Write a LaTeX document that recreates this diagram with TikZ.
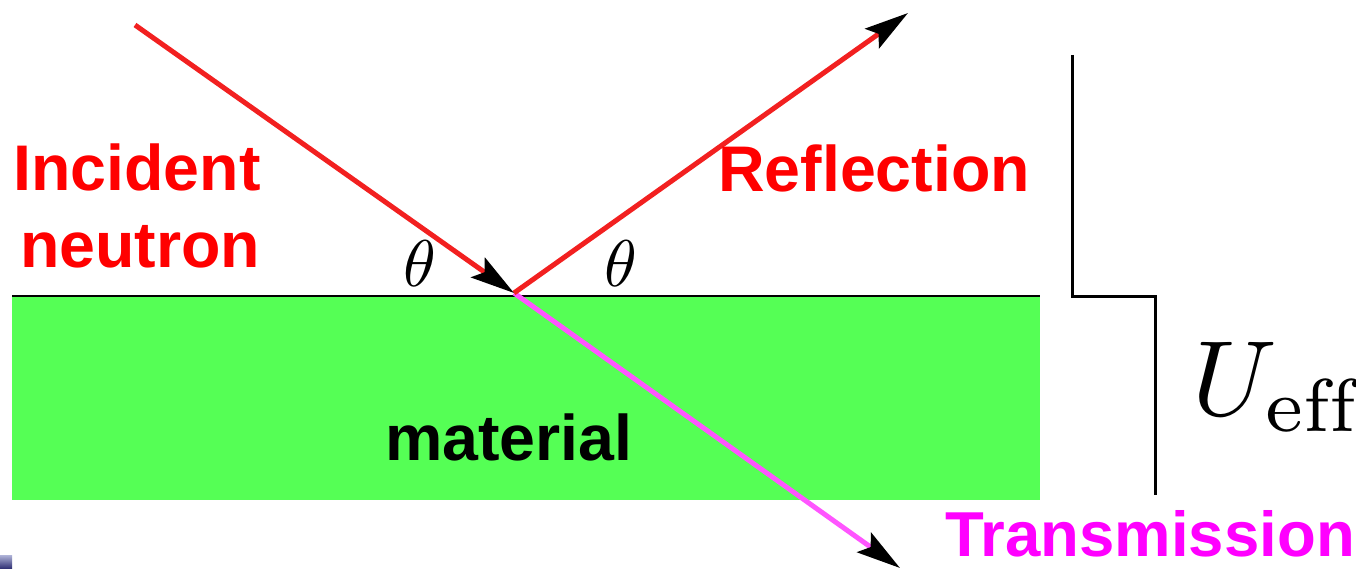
\documentclass[tikz,border=0pt]{standalone}
\usepackage{fontspec}
\newfontfamily\arialb{Liberation Sans}[BoldFont={Liberation Sans Bold}]
\usetikzlibrary{arrows.meta}
\definecolor{rayred}{HTML}{F22020}
\definecolor{txtred}{HTML}{FF0000}
\definecolor{raymag}{HTML}{FF55FF}
\definecolor{txtmag}{HTML}{FF00FF}
\definecolor{matgreen}{HTML}{55FF55}
\definecolor{navyA}{HTML}{B0B4D8}
\definecolor{navyB}{HTML}{2A2A70}
\tikzset{
  ray/.style={line width=5pt, -{Stealth[length=44pt,width=24pt,inset=8pt,black]}},
  bigtxt/.style={inner sep=0pt, font=\arialb\bfseries\fontsize{64.5}{70}\selectfont},
  stepline/.style={line width=3pt, black},
  surfline/.style={line width=2.2pt, black},
  mathlbl/.style={inner sep=0pt},
}
\begin{document}
\begin{tikzpicture}[x=1pt,y=-1pt]
\useasboundingbox (0,0) rectangle (1356,569);
% material
\fill[matgreen] (12,297) rectangle (1040,500);
\draw[surfline] (12,296) -- (1040,296);
% coordinates
\coordinate (inc) at (135,25);
\coordinate (O) at (514,293);
\coordinate (R) at (908,13);
\coordinate (T) at (900,568);
% rays
\draw[ray, raymag] (O) -- (T);
\draw[ray, rayred] (O) -- (R);
\draw[ray, rayred] (inc) -- (O);
% labels
\node[bigtxt, text=txtred, anchor=base west] (inctxt) at (13,191) {Incident};
\node[bigtxt, text=txtred, anchor=base west] (neutxt) at (20,267) {neutron};
\node[bigtxt, text=txtred, anchor=base west] (reftxt) at (718,192) {Reflection};
\node[bigtxt, text=black, anchor=base] (mattxt) at (509,460) {material};
\node[bigtxt, text=txtmag, anchor=base east, font=\arialb\bfseries\fontsize{63.5}{70}\selectfont] (trtxt) at (1355,556) {Transmission};
\node[mathlbl, scale=6.6, anchor=base] (th1) at (420,286) {$\theta$};
\node[mathlbl, scale=6.6, anchor=base] (th2) at (621,286) {$\theta$};
% potential step
\coordinate (p1) at (1072,55);
\coordinate (p2) at (1072,296);
\coordinate (p3) at (1157,296);
\coordinate (p4) at (1155,296);
\coordinate (p5) at (1155,495);
\draw[stepline] (p1) -- (p2) -- (p3);
\draw[stepline] (p4) -- (p5);
\node[mathlbl, scale=10.7, anchor=base west] (ueff) at (1190,415) {$U_{\mathrm{eff}}$};
% corner artifact
\shade[top color=navyA, bottom color=navyB] (0,555) rectangle (12,569);
\end{tikzpicture}
\end{document}
